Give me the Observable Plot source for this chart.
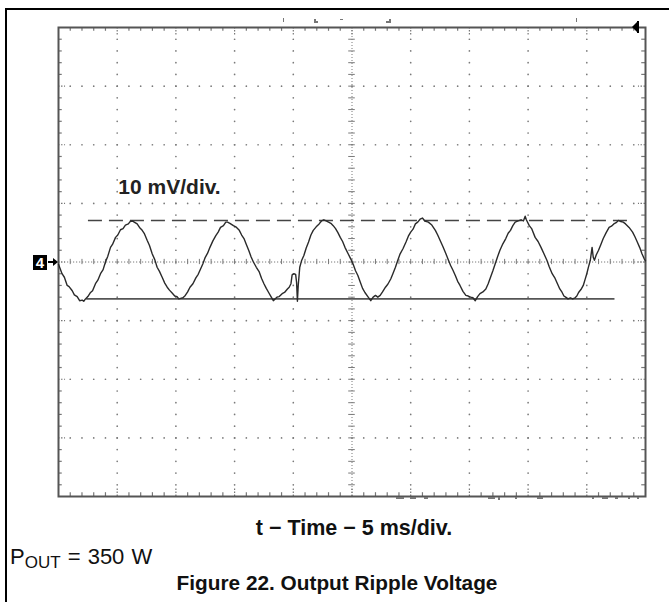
<!DOCTYPE html>
<html>
<head>
<meta charset="utf-8">
<script src="https://cdn.jsdelivr.net/npm/d3@7"></script>
<script src="https://cdn.jsdelivr.net/npm/@observablehq/plot@0.6"></script>
<style>
  html, body { margin: 0; padding: 0; background: #fff; }
  #page { position: relative; width: 669px; height: 602px; overflow: hidden; background: #fff;
          font-family: "Liberation Sans", Arial, Helvetica, sans-serif; color: #111; }
  #page svg { position: absolute; left: 0; top: 0; }
  .abs { position: absolute; white-space: nowrap; }
  #border { position: absolute; left: 5px; top: 8px; right: -4px; bottom: -4px;
            border-top: 2px solid #000; border-left: 2px solid #000; pointer-events: none; }
  .bold { font-weight: bold; }
  .art { position: absolute; background: #777; }
</style>
</head>
<body>
<div id="page">
  <div id="chart"></div>
  <div id="border"></div>
  <div class="abs bold" style="left:354px; top:518px; font-size:21.5px; line-height:21px; transform:translateX(-50%);">t − Time − 5 ms/div.</div>
  <div class="abs" style="left:10px; top:546px; font-size:22px; line-height:22px; word-spacing:1px;">P<span style="font-size:17px; position:relative; top:4px; word-spacing:0;">OUT</span> = 350 W</div>
  <div class="abs bold" style="left:337px; top:572px; font-size:20.8px; line-height:21px; transform:translateX(-50%);">Figure 22. Output Ripple Voltage</div>
  <!-- channel marker -->
  <div class="abs" style="left:33px; top:255px; width:14px; height:15px; background:#000; color:#fff; font-weight:bold; font-size:15px; line-height:15px; text-align:center;">4</div>
  <div class="abs" style="left:48px; top:261px; width:6px; height:2px; background:#000;"></div>
  <div class="abs" style="left:53px; top:258px; width:0; height:0; border-top:4px solid transparent; border-bottom:4px solid transparent; border-left:5px solid #000;"></div>
  <!-- trigger marker -->
  <div class="abs" style="left:632px; top:21px; width:0; height:0; border-top:6px solid transparent; border-bottom:6px solid transparent; border-right:6px solid #000;"></div>
  <div class="abs" style="left:637px; top:21px; width:2px; height:12px; background:#000;"></div>
  <!-- readout fragments -->
  <div class="art" style="left:283px; top:18px; width:1px; height:4px;"></div>
  <div class="art" style="left:314px; top:19px; width:2px; height:4px;"></div>
  <div class="art" style="left:314px; top:21px; width:4px; height:2px;"></div>
  <div class="art" style="left:340px; top:19px; width:3px; height:1px;"></div>
  <div class="art" style="left:389px; top:19px; width:2px; height:4px;"></div>
  <div class="art" style="left:386px; top:21px; width:4px; height:2px;"></div>
  <div class="art" style="left:576px; top:18px; width:1px; height:4px;"></div>
  <div class="art" style="left:396px; top:497px; width:8px; height:2px;"></div>
  <div class="art" style="left:410px; top:497px; width:6px; height:2px;"></div>
  <div class="art" style="left:424px; top:497px; width:4px; height:2px;"></div>
  <div class="art" style="left:488px; top:497px; width:7px; height:2px;"></div>
  <div class="art" style="left:498px; top:497px; width:2px; height:3px;"></div>
  <div class="art" style="left:515px; top:497px; width:2px; height:2px;"></div>
  <div class="art" style="left:537px; top:497px; width:6px; height:2px;"></div>
  <div class="art" style="left:592px; top:497px; width:2px; height:2px;"></div>
  <div class="art" style="left:602px; top:497px; width:6px; height:2px;"></div>
  <div class="art" style="left:615px; top:497px; width:3px; height:2px;"></div>
  <div class="art" style="left:628px; top:497px; width:2px; height:2px;"></div>
  <div class="art" style="left:637px; top:497px; width:2px; height:2px;"></div>
</div>
<script>
// ---- data ----
// time axis: 5 ms/div, 10 divisions; voltage axis: 10 mV/div, 8 divisions
const timeDomainMs = [0, 50];
const voltDomainMv = [-40, 40];
const timeMs = [
  0.0, 0.15, 0.3, 0.5, 0.74, 0.9, 1.17, 1.35, 1.59, 1.8, 2.02, 2.15, 2.3, 2.5, 2.73, 2.9,
  3.15, 3.35, 3.58, 3.8, 4.0, 4.2, 4.43, 4.6, 4.86, 5.05, 5.28, 5.5, 5.7, 5.95, 6.1, 6.28,
  6.45, 6.7, 6.9, 7.13, 7.3, 7.55, 7.75, 7.98, 8.2, 8.4, 8.6, 8.83, 9.05, 9.26, 9.45, 9.68,
  9.9, 10.1, 10.25, 10.4, 10.6, 10.8, 11.0, 11.2, 11.45, 11.7, 11.9, 12.1, 12.3, 12.5, 12.7, 12.9,
  13.15, 13.4, 13.6, 13.8, 14.05, 14.25, 14.4, 14.6, 14.9, 15.1, 15.4, 15.6, 15.8, 16.0, 16.2, 16.4,
  16.6, 16.85, 17.1, 17.3, 17.5, 17.7, 17.9, 18.1, 18.3, 18.45, 18.6, 18.8, 19.05, 19.25, 19.5, 19.65,
  19.8, 19.9, 20.05, 20.2, 20.28, 20.35, 20.42, 20.55, 20.7, 20.9, 21.1, 21.3, 21.5, 21.7, 21.95, 22.2,
  22.4, 22.6, 22.8, 23.0, 23.2, 23.4, 23.6, 23.8, 24.0, 24.2, 24.4, 24.65, 24.9, 25.1, 25.3, 25.5,
  25.7, 25.9, 26.1, 26.35, 26.6, 26.8, 27.0, 27.2, 27.4, 27.6, 27.85, 28.05, 28.3, 28.5, 28.7, 28.9,
  29.1, 29.35, 29.6, 29.8, 30.0, 30.2, 30.4, 30.6, 30.8, 31.0, 31.2, 31.5, 31.8, 32.1, 32.3, 32.5,
  32.75, 33.0, 33.2, 33.4, 33.6, 33.8, 34.0, 34.2, 34.45, 34.7, 34.9, 35.1, 35.3, 35.5, 35.7, 35.9,
  36.15, 36.4, 36.6, 36.8, 37.0, 37.2, 37.4, 37.6, 37.85, 38.1, 38.3, 38.5, 38.7, 38.9, 39.15, 39.4,
  39.6, 39.75, 39.85, 40.1, 40.3, 40.6, 40.85, 41.1, 41.35, 41.6, 41.8, 42.05, 42.3, 42.5, 42.7, 42.9,
  43.05, 43.2, 43.4, 43.6, 43.8, 44.0, 44.15, 44.3, 44.5, 44.7, 44.85, 45.0, 45.15, 45.3, 45.45, 45.55,
  45.65, 45.8, 46.0, 46.2, 46.4, 46.65, 46.9, 47.1, 47.3, 47.5, 47.7, 47.9, 48.1, 48.3, 48.6, 48.9,
  49.1, 49.3, 49.5, 49.7, 49.9, 50.0
];
const rippleMv = [
  -0.4, -1.2, -2.0, -2.6, -4.0, -4.2, -4.9, -5.6, -5.9, -6.6, -6.5, -6.7, -6.3, -5.9, -5.2, -4.9,
  -3.7, -3.1, -2.0, -1.3, 0.0, 1.0, 2.5, 3.0, 4.2, 4.6, 5.5, 5.7, 6.3, 6.5, 6.9, 7.0,
  6.8, 6.5, 5.9, 5.4, 4.9, 3.7, 2.8, 1.4, 0.4, -0.9, -1.6, -2.6, -3.6, -4.3, -4.8, -5.3,
  -5.8, -5.9, -6.3, -6.2, -6.1, -5.7, -5.1, -4.3, -3.7, -2.7, -2.1, -1.2, -0.3, 0.8, 1.5, 2.5,
  3.6, 4.5, 5.1, 5.9, 6.2, 6.8, 6.8, 6.6, 6.2, 6.0, 5.4, 4.6, 4.0, 3.0, 2.0, 0.9,
  0.0, -0.9, -1.7, -2.8, -3.7, -4.5, -5.2, -5.9, -6.6, -6.3, -6.0, -5.9, -5.4, -5.2, -4.6, -4.3,
  -3.7, -2.2, -2.0, -2.1, -3.5, -6.7, -4.0, -0.9, 0.2, 1.1, 2.4, 3.4, 4.6, 5.4, 6.0, 6.5,
  7.0, 7.2, 7.0, 6.8, 6.6, 6.2, 5.7, 5.0, 4.2, 3.5, 2.5, 1.5, 0.5, -0.4, -1.5, -2.3,
  -3.4, -4.5, -5.2, -5.9, -6.6, -6.0, -5.7, -6.0, -5.7, -5.1, -4.3, -3.8, -2.9, -1.9, -0.9, 0.3,
  1.4, 2.3, 3.4, 4.4, 5.1, 5.6, 6.5, 6.8, 7.3, 7.5, 7.0, 6.8, 6.3, 5.4, 4.6, 3.7,
  2.6, 1.4, 0.4, -0.6, -1.4, -2.3, -3.3, -4.0, -5.0, -5.7, -5.8, -6.0, -6.1, -6.6, -5.9, -5.4,
  -5.1, -4.6, -3.7, -2.6, -1.5, -0.3, 0.9, 2.0, 3.1, 4.0, 4.9, 5.4, 6.2, 6.8, 7.0, 7.2,
  7.0, 7.8, 7.2, 6.2, 5.7, 4.2, 3.5, 2.5, 1.4, 0.3, -0.8, -2.0, -2.8, -3.7, -4.6, -5.2,
  -5.8, -6.0, -6.3, -6.1, -6.3, -6.1, -5.8, -5.2, -4.7, -4.0, -3.0, -2.0, -0.8, 0.3, 2.5, 0.8,
  0.3, 1.2, 2.0, 3.0, 4.0, 5.0, 5.9, 6.1, 6.5, 6.7, 7.1, 6.9, 6.8, 6.5, 5.9, 5.1,
  4.3, 3.4, 2.5, 1.4, 0.5, 0.2
];
// cursor lines (peak: dashed, trough: solid)
const peakCursor = [{v: 7.1, t1: 2.55, t2: 48.55}];
const troughCursor = [{v: -6.3, t1: 2.4, t2: 47.4}];
const scaleLabel = [{t: 5.1, v: 12.7, text: "10 mV/div."}];
// graticule ticks: major every division, minor every 1/5 division
const majorTimeTicks = d3.range(0, 51, 5);
const minorTimeTicks = d3.range(0, 50.001, 1);
const majorVoltTicks = d3.range(-40, 41, 10);
const minorVoltTicks = d3.range(-40, 40.001, 2);

// ---- build tables ----
const wave = timeMs.map((t, i) => ({t, v: rippleMv[i]}));
const innerMajorT = majorTimeTicks.filter(t => t > 0 && t < 50 && t !== 25);
const innerMajorV = majorVoltTicks.filter(v => v > -40 && v < 40 && v !== 0);
const innerMinorT = minorTimeTicks.filter(t => t > 0 && t < 50);
const innerMinorV = minorVoltTicks.filter(v => v > -40 && v < 40);
const gridDots = [];
for (const t of innerMajorT) for (const v of innerMinorV) gridDots.push({t, v});
for (const v of innerMajorV) for (const t of innerMinorT) gridDots.push({t, v});
const edgeMinorT = innerMinorT.filter(t => t % 5 !== 0);
const edgeMinorV = innerMinorV.filter(v => v % 10 !== 0);

const gridColor = "#7a7a7a";
const chart = Plot.plot({
  width: 669,
  height: 602,
  marginLeft: 58,
  marginRight: 24,
  marginTop: 27,
  marginBottom: 106,
  style: {fontFamily: "'Liberation Sans', Arial, Helvetica, sans-serif", background: "transparent"},
  x: {domain: timeDomainMs, axis: null},
  y: {domain: voltDomainMv, axis: null},
  marks: [
    // graticule dots
    Plot.dot(gridDots, {x: "t", y: "v", r: 0.85, fill: gridColor, stroke: null}),
    // center lines, dotted, with cross ticks
    Plot.ruleX([25], {stroke: gridColor, strokeWidth: 1, strokeDasharray: "1,2"}),
    Plot.ruleY([0], {stroke: gridColor, strokeWidth: 1, strokeDasharray: "1.2,1.8"}),
    Plot.ruleY(innerMinorV, {y: d => d, x1: () => 24.72, x2: () => 25.28, stroke: gridColor, strokeWidth: 1}),
    Plot.ruleX(innerMinorT, {x: d => d, y1: () => -0.45, y2: () => 0.45, stroke: gridColor, strokeWidth: 1}),
    // edge ticks (minor)
    Plot.ruleX(edgeMinorT, {x: d => d, y1: () => 40, y2: () => 39.35, stroke: "#777", strokeWidth: 1.2}),
    Plot.ruleX(edgeMinorT, {x: d => d, y1: () => -40, y2: () => -39.35, stroke: "#777", strokeWidth: 1.2}),
    Plot.ruleY(edgeMinorV, {y: d => d, x1: () => 0, x2: () => 0.32, stroke: "#777", strokeWidth: 1.2}),
    Plot.ruleY(edgeMinorV, {y: d => d, x1: () => 50, x2: () => 49.68, stroke: "#777", strokeWidth: 1.2}),
    // edge ticks (major), dotted
    Plot.ruleX(innerMajorT.concat([25]), {x: d => d, y1: () => 40, y2: () => 38.6, stroke: "#777", strokeWidth: 1.2, strokeDasharray: "1.5,1.5"}),
    Plot.ruleX(innerMajorT.concat([25]), {x: d => d, y1: () => -40, y2: () => -38.6, stroke: "#777", strokeWidth: 1.2, strokeDasharray: "1.5,1.5"}),
    Plot.ruleY(innerMajorV.concat([0]), {y: d => d, x1: () => 0, x2: () => 0.6, stroke: "#777", strokeWidth: 1.2, strokeDasharray: "1.5,1.5"}),
    Plot.ruleY(innerMajorV.concat([0]), {y: d => d, x1: () => 50, x2: () => 49.4, stroke: "#777", strokeWidth: 1.2, strokeDasharray: "1.5,1.5"}),
    Plot.frame({stroke: "#555", strokeWidth: 2}),
    // cursors
    Plot.ruleY(peakCursor, {y: "v", x1: "t1", x2: "t2", stroke: "#444", strokeWidth: 1.5, strokeDasharray: "14,7"}),
    Plot.ruleY(troughCursor, {y: "v", x1: "t1", x2: "t2", stroke: "#555", strokeWidth: 1.8}),
    // waveform
    Plot.line(wave, {x: "t", y: "v", stroke: "#2a2a2a", strokeWidth: 1.4, strokeLinejoin: "round"}),
    // label
    Plot.text(scaleLabel, {x: "t", y: "v", text: "text", textAnchor: "start", fontSize: 21, fontWeight: "bold", fill: "#222"})
  ]
});
document.getElementById("chart").appendChild(chart);
</script>
</body>
</html>
